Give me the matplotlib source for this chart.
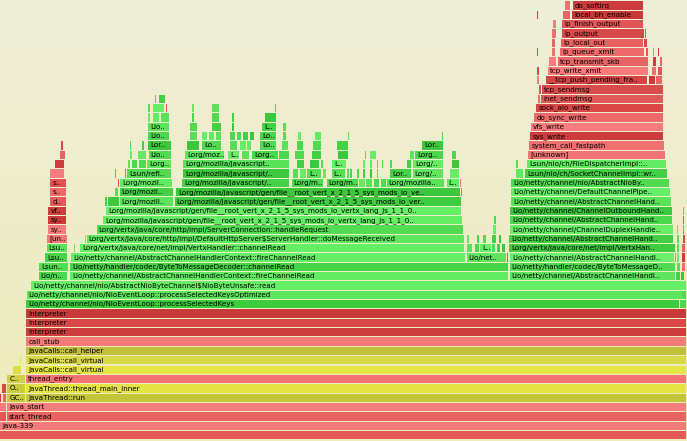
import matplotlib.pyplot as plt
from matplotlib.colors import LinearSegmentedColormap
import numpy as np

total_samples = 687

# labelled frames: (stack depth, first sample, samples, name shown)
base_frames = [
    (0, 0, 687, ''),
    (1, 0, 687, 'java-339'),
    (2, 6.5, 680.5, 'start_thread'),
    (3, 6.5, 680.5, 'java_start'),
    (4, 7, 18.5, 'GC..'),
    (4, 26, 661, 'JavaThread::run'),
    (5, 7, 18.5, 'O..'),
    (5, 26, 661, 'JavaThread::thread_main_inner'),
    (6, 7, 18.5, 'C..'),
    (6, 26, 661, 'thread_entry'),
    (7, 26, 661, 'JavaCalls::call_virtual'),
    (8, 26, 661, 'JavaCalls::call_virtual'),
    (9, 26, 661, 'JavaCalls::call_helper'),
    (10, 26, 661, 'call_stub'),
    (11, 26, 661, 'Interpreter'),
    (12, 26, 661, 'Interpreter'),
    (13, 26, 661, 'Interpreter'),
    (14, 26, 654, 'Lio/netty/channel/nio/NioEventLoop::processSelectedKeys'),
    (15, 26.5, 660, 'Lio/netty/channel/nio/NioEventLoop::processSelectedKeysOptimized'),
    (16, 31, 655.5, 'Lio/netty/channel/nio/AbstractNioByteChannel$NioByteUnsafe::read'),
]

native_frames = [
    (17, 38.5, 29.5, 'Lio/n..'),
    (18, 39.3, 29, 'Lsun..'),
    (19, 45, 23, 'Lsu..'),
    (20, 46.5, 21.5, 'Lsu..'),
    (21, 46.7, 21.3, '[un..'),
    (22, 48.3, 18.5, 'sy..'),
    (23, 48.3, 18.5, 'sy..'),
    (24, 48.3, 18.5, 'vf..'),
    (25, 50, 17, 'd..'),
    (26, 50, 17, 's..'),
    (27, 50, 17, 's..'),
]

http_frames = [
    (17, 70, 439, 'Lio/netty/channel/AbstractChannelHandlerContext::fireChannelRead'),
    (18, 70, 439, 'Lio/netty/handler/codec/ByteToMessageDecoder::channelRead'),
    (19, 71, 395, 'Lio/netty/channel/AbstractChannelHandlerContext::fireChannelRead'),
    (19, 466.5, 40, 'Lio/net..'),
    (20, 80, 385, 'Lorg/vertx/java/core/net/impl/VertxHandler::channelRead'),
    (21, 86.5, 378.5, 'Lorg/vertx/java/core/http/impl/DefaultHttpServer$ServerHandler::doMessageReceived'),
    (22, 96.5, 367, 'Lorg/vertx/java/core/http/impl/ServerConnection::handleRequest'),
    (23, 103, 360, 'Lorg/mozilla/javascript/gen/file__root_vert_x_2_1_5_sys_mods_io_vertx_lang_js_1_1_0..'),
    (24, 106, 356, 'Lorg/mozilla/javascript/gen/file__root_vert_x_2_1_5_sys_mods_io_vertx_lang_js_1_1_0..'),
    (25, 119.5, 54, 'Lorg/mozill..'),
    (25, 174.5, 287, 'Lorg/mozilla/javascript/gen/file__root_vert_x_2_1_5_sys_mods_io_ver..'),
    (26, 119.5, 54.5, 'Lorg/mozil..'),
    (26, 176, 285, 'Lorg/mozilla/javascript/gen/file__root_vert_x_2_1_5_sys_mods_io_ve..'),
]

script_frames = [
    (27, 120, 53, 'Lorg/mozil..'),
    (27, 182, 107.5, 'Lorg/mozilla/javascript/..'),
    (27, 291.5, 32, 'Lorg/m..'),
    (27, 326.5, 32, 'Lorg/m..'),
    (27, 386.5, 58.5, 'Lorg/mozilla..'),
    (27, 446.5, 13.5, 'L..'),
    (28, 127, 45, 'Lsun/refl..'),
    (28, 182.7, 107, 'Lorg/mozilla/javascript/..'),
    (28, 307, 15, 'L..'),
    (28, 331.5, 14, 'L..'),
    (28, 390, 21.5, 'Lor..'),
    (28, 412.5, 31, 'Lorg/..'),
    (29, 146.7, 25, 'Lorg..'),
    (29, 183.3, 106.5, 'Lorg/mozilla/javascript..'),
    (29, 331.7, 15, 'L..'),
    (29, 413, 30.3, 'Lorg/..'),
    (30, 148.5, 23, 'Lio..'),
    (30, 185, 40, 'Lorg/moz..'),
    (30, 228, 12, 'L..'),
    (30, 251.7, 26.5, 'Lorg..'),
    (30, 415, 28.3, 'Lorg..'),
    (31, 148, 23.5, 'Lor..'),
    (31, 201.7, 20, 'Lo..'),
    (31, 260, 16.7, 'Lo..'),
    (31, 421.7, 21.6, 'Lor..'),
    (32, 148.3, 21.7, 'Lio..'),
    (32, 260, 16.7, 'Lo..'),
    (33, 148.3, 21.7, 'Lio..'),
    (33, 261.7, 15, 'L..'),
]

write_frames = [
    (17, 509.5, 166, 'Lio/netty/channel/AbstractChannelHandl..'),
    (18, 509.5, 166.5, 'Lio/netty/handler/codec/ByteToMessageD..'),
    (19, 510, 165, 'Lio/netty/channel/AbstractChannelHandl..'),
    (20, 480, 11.7, 'L..'),
    (20, 509.3, 166, 'Lorg/vertx/java/core/net/impl/VertxHan..'),
    (21, 509, 165, 'Lio/netty/channel/AbstractChannelHand..'),
    (22, 510, 163.3, 'Lio/netty/channel/ChannelDuplexHandle..'),
    (23, 510, 163, 'Lio/netty/channel/AbstractChannelHand..'),
    (24, 510, 162.7, 'Lio/netty/channel/ChannelOutboundHand..'),
    (25, 510.7, 161, 'Lio/netty/channel/AbstractChannelHand..'),
    (26, 510.7, 160, 'Lio/netty/channel/DefaultChannelPipe..'),
    (27, 511, 159, 'Lio/netty/channel/nio/AbstractNioBy..'),
    (28, 525, 142.7, 'Lsun/nio/ch/SocketChannelImpl::wr..'),
    (29, 526.7, 140, 'Lsun/nio/ch/FileDispatcherImpl::..'),
]

kernel_frames = [
    (30, 528.3, 137.7, '[unknown]'),
    (31, 529.3, 135, 'system_call_fastpath'),
    (32, 530, 134, 'sys_write'),
    (33, 530.7, 133.3, 'vfs_write'),
    (34, 534, 130, 'do_sync_write'),
    (35, 536, 128, 'sock_aio_write'),
    (36, 540.7, 123.3, 'inet_sendmsg'),
    (37, 541.7, 122.3, 'tcp_sendmsg'),
    (38, 546, 102, '__tcp_push_pending_fra..'),
    (39, 547.7, 101.3, 'tcp_write_xmit'),
    (40, 558, 91, 'tcp_transmit_skb'),
    (41, 560, 85, 'ip_queue_xmit'),
    (42, 560.7, 83.3, 'ip_local_out'),
    (43, 561.7, 83.3, 'ip_output'),
    (44, 561.7, 81.6, 'ip_finish_output'),
    (45, 571.7, 71.6, 'local_bh_enable'),
    (46, 572.7, 70.6, 'do_softirq'),
]

# frames too narrow for a name: (stack depth, first sample, samples)
green_slivers = [
    (4, 1.8, 1.2), (14, 680, 6.5), (15, 682, 4.5),
    (17, 676, 4.5), (17, 680.5, 4), (18, 676.5, 4.5), (19, 677, 3),
    (20, 74, 1.2), (20, 466.7, 6.3), (20, 475, 5), (20, 491.7, 4.3),
    (20, 496.5, 4.5), (20, 501.5, 4.5), (20, 676.7, 3.3),
    (21, 85, 1.2), (21, 466.7, 3.3), (21, 473.5, 1.5), (21, 476.7, 3.3),
    (21, 483, 3.7), (21, 491.7, 5), (21, 499, 2.7), (21, 677, 2.5),
    (22, 493, 3.7), (22, 676.7, 2.3), (23, 97.5, 1.5), (23, 494, 2.7),
    (24, 96.5, 1.2), (25, 105, 2.5), (25, 108.3, 11), (26, 115, 4),
    (27, 114.5, 1.2), (27, 358.5, 7), (27, 366, 7), (27, 373.5, 6.5), (27, 380.5, 6),
    (28, 115, 1.5), (28, 125, 2), (28, 293, 6), (28, 299.5, 7), (28, 323, 4),
    (28, 346.5, 3), (28, 350, 3), (28, 356.5, 3), (28, 363, 3), (28, 370, 3),
    (28, 376.5, 2), (28, 450, 10), (28, 516, 8),
    (29, 128, 3), (29, 132, 6), (29, 138.5, 8), (29, 296.7, 8), (29, 310, 10),
    (29, 320.5, 3), (29, 363, 3), (29, 370, 3), (29, 376.5, 2), (29, 381.5, 2),
    (29, 390, 3), (29, 406.7, 5), (29, 451.7, 8), (29, 516, 2.7),
    (30, 130, 3), (30, 138, 8.5), (30, 241.7, 8.3), (30, 278.5, 11.5), (30, 295, 10),
    (30, 311.7, 10), (30, 338, 10.3), (30, 365, 1.7), (30, 370, 6.7), (30, 381.7, 1.3),
    (30, 410, 5), (30, 451.7, 5),
    (31, 130, 1.7), (31, 141.7, 3.3), (31, 186.7, 13.3), (31, 230, 8), (31, 240, 6.7),
    (31, 247, 4.7), (31, 281.7, 6.6), (31, 296.7, 6.6), (31, 313.3, 8.4), (31, 336.7, 11.6),
    (32, 141.7, 1.3), (32, 190, 8), (32, 201.7, 6.3), (32, 208.5, 6.5), (32, 215.5, 6.2),
    (32, 230, 6), (32, 236.7, 5), (32, 243, 6), (32, 249.5, 5.5), (32, 283.3, 3.4),
    (32, 298, 3.7), (32, 315, 6.7), (32, 348, 2), (32, 441.7, 1.6),
    (33, 190, 8), (33, 211.7, 10), (33, 231.7, 3.3), (33, 283.3, 3.4),
    (34, 148, 3), (34, 153, 7), (34, 160.5, 9.5), (34, 191.7, 3.3), (34, 211.7, 8.3),
    (34, 231.7, 3.3), (34, 265, 11.7),
    (35, 148, 2.5), (35, 153, 12), (35, 191.7, 3.3), (35, 211.7, 8.3), (35, 275, 1.7),
    (36, 155, 2), (36, 159, 7), (37, 162, 1),
]

red_slivers = [
    (2, 0, 6.5), (3, 0, 6.5), (4, 0, 1.8), (4, 3.2, 3.2), (5, 1.8, 4.5),
    (18, 682, 4), (19, 507.3, 1.4), (19, 675.2, 1.5), (19, 682, 4), (20, 682, 4),
    (21, 682.5, 3), (22, 682.5, 2.5), (23, 683, 2), (24, 683, 2), (25, 683.5, 1.5),
    (26, 461.3, 1.2), (27, 118.2, 1.2), (27, 460.3, 1.2), (35, 166.3, 0.8),
    (28, 50, 15), (29, 55, 10), (30, 60, 6), (31, 60.7, 2.6),
    (36, 538, 2.7), (37, 539.3, 2.3), (38, 537, 3), (38, 649, 6.5), (38, 656, 6.7),
    (39, 537, 3), (39, 651.7, 5), (39, 657.7, 5), (40, 549, 8), (40, 653, 4),
    (40, 660, 2.7), (41, 537, 2), (41, 551.7, 4.3), (41, 645.7, 2.6), (41, 652.7, 1.6),
    (41, 658, 2), (42, 551.7, 4.3), (42, 644, 4), (43, 551.7, 5), (43, 645, 1.5),
    (44, 553, 3.7), (45, 537, 2), (45, 563, 7.7), (46, 537.5, 1.5), (46, 565, 5.7),
]

yellow_slivers = [(7, 12.7, 9.3), (8, 20, 1.5), (9, 6.8, 0.9)]

# colours of the named frames, keyed by (depth, name)
frame_colors = {
    (0, ''): '#e35858', (1, 'java-339'): '#f37a7a', (2, 'start_thread'): '#e86262',
    (3, 'java_start'): '#f47c7c', (4, 'GC..'): '#c8c83c', (4, 'JavaThread::run'): '#c5c53a',
    (5, 'O..'): '#cbcb40', (5, 'JavaThread::thread_main_inner'): '#e3e344',
    (6, 'C..'): '#d0d046', (6, 'thread_entry'): '#f27474',
    (7, 'JavaCalls::call_virtual'): '#e5e546', (8, 'JavaCalls::call_virtual'): '#d9d948',
    (9, 'JavaCalls::call_helper'): '#c0c03a', (10, 'call_stub'): '#f47a7a',
    (11, 'Interpreter'): '#cd3d3d', (12, 'Interpreter'): '#d84848', (13, 'Interpreter'): '#c93a3a',
    (14, 'Lio/netty/channel/nio/NioEventLoop::processSelectedKeys'): '#3ccc3c',
    (15, 'Lio/netty/channel/nio/NioEventLoop::processSelectedKeysOptimized'): '#5ce65c',
    (16, 'Lio/netty/channel/nio/AbstractNioByteChannel$NioByteUnsafe::read'): '#66ef66',
    (17, 'Lio/n..'): '#4cd84c', (18, 'Lsun..'): '#52de52', (19, 'Lsu..'): '#48d448',
    (20, 'Lsu..'): '#5ae25a', (21, '[un..'): '#f27676', (22, 'sy..'): '#f57c7c',
    (23, 'sy..'): '#cc3a3a', (24, 'vf..'): '#cd3e3e', (25, 'd..'): '#e25a5a',
    (26, 's..'): '#ee6a6a', (27, 's..'): '#e05252',
    (17, 'Lio/netty/channel/AbstractChannelHandlerContext::fireChannelRead'): '#62ec62',
    (18, 'Lio/netty/handler/codec/ByteToMessageDecoder::channelRead'): '#46d446',
    (19, 'Lio/netty/channel/AbstractChannelHandlerContext::fireChannelRead'): '#66ee66',
    (19, 'Lio/net..'): '#5ee45e',
    (20, 'Lorg/vertx/java/core/net/impl/VertxHandler::channelRead'): '#64ee64',
    (21, 'Lorg/vertx/java/core/http/impl/DefaultHttpServer$ServerHandler::doMessageReceived'): '#5ee85e',
    (22, 'Lorg/vertx/java/core/http/impl/ServerConnection::handleRequest'): '#52dc52',
    (23, 'Lorg/mozilla/javascript/gen/file__root_vert_x_2_1_5_sys_mods_io_vertx_lang_js_1_1_0..'): '#64ec64',
    (24, 'Lorg/mozilla/javascript/gen/file__root_vert_x_2_1_5_sys_mods_io_vertx_lang_js_1_1_0..'): '#66ee66',
    (25, 'Lorg/mozill..'): '#5ce45c',
    (25, 'Lorg/mozilla/javascript/gen/file__root_vert_x_2_1_5_sys_mods_io_ver..'): '#40cc40',
    (26, 'Lorg/mozil..'): '#44d044',
    (26, 'Lorg/mozilla/javascript/gen/file__root_vert_x_2_1_5_sys_mods_io_ve..'): '#3cc83c',
    (27, 'Lorg/mozil..'): '#62ea62', (27, 'Lorg/mozilla/javascript/..'): '#46d246',
    (27, 'Lorg/m..'): '#50d850', (27, 'Lorg/mozilla..'): '#5ae25a', (27, 'L..'): '#62ea62',
    (28, 'Lsun/refl..'): '#52da52', (28, 'Lorg/mozilla/javascript/..'): '#3ec83e',
    (28, 'L..'): '#56de56', (28, 'Lor..'): '#46d046', (28, 'Lorg/..'): '#5ee65e',
    (29, 'Lorg..'): '#5ee85e', (29, 'Lorg/mozilla/javascript..'): '#5ae25a',
    (29, 'L..'): '#66ee66', (29, 'Lorg/..'): '#64ec64',
    (30, 'Lio..'): '#50da50', (30, 'Lorg/moz..'): '#5ee65e', (30, 'L..'): '#66ee66',
    (30, 'Lorg..'): '#4cd64c', (31, 'Lor..'): '#3cc83c', (31, 'Lo..'): '#50d850',
    (32, 'Lio..'): '#4cd84c', (32, 'Lo..'): '#4ad44a', (33, 'Lio..'): '#5ae25a',
    (33, 'L..'): '#44d044',
    (17, 'Lio/netty/channel/AbstractChannelHandl..'): '#5ee45e',
    (18, 'Lio/netty/handler/codec/ByteToMessageD..'): '#50da50',
    (19, 'Lio/netty/channel/AbstractChannelHandl..'): '#6af06a',
    (20, 'L..'): '#66ee66',
    (20, 'Lorg/vertx/java/core/net/impl/VertxHan..'): '#3fcc3f',
    (21, 'Lio/netty/channel/AbstractChannelHand..'): '#44d044',
    (22, 'Lio/netty/channel/ChannelDuplexHandle..'): '#66ee66',
    (23, 'Lio/netty/channel/AbstractChannelHand..'): '#4cd84c',
    (24, 'Lio/netty/channel/ChannelOutboundHand..'): '#3cc83c',
    (25, 'Lio/netty/channel/AbstractChannelHand..'): '#5ae25a',
    (26, 'Lio/netty/channel/DefaultChannelPipe..'): '#66ee66',
    (27, 'Lio/netty/channel/nio/AbstractNioBy..'): '#50da50',
    (28, 'Lsun/nio/ch/SocketChannelImpl::wr..'): '#44d044',
    (29, 'Lsun/nio/ch/FileDispatcherImpl::..'): '#62ec62',
    (30, '[unknown]'): '#f07474', (31, 'system_call_fastpath'): '#f07070',
    (32, 'sys_write'): '#cc3c3c', (33, 'vfs_write'): '#f87c7c',
    (34, 'do_sync_write'): '#ee6a6a', (35, 'sock_aio_write'): '#d84646',
    (36, 'inet_sendmsg'): '#e05858', (37, 'tcp_sendmsg'): '#d84c4c',
    (38, '__tcp_push_pending_fra..'): '#d44444', (39, 'tcp_write_xmit'): '#f87a7a',
    (40, 'tcp_transmit_skb'): '#e86464', (41, 'ip_queue_xmit'): '#ee6a6a',
    (42, 'ip_local_out'): '#e86060', (43, 'ip_output'): '#d84848',
    (44, 'ip_finish_output'): '#e05555', (45, 'local_bh_enable'): '#cc3838',
    (46, 'do_softirq'): '#cc3c3c',
}
green_shades = ['#5ae25a', '#44d044', '#66ee66', '#4cd84c', '#3cc83c', '#62ea62', '#50da50', '#56de56']
red_shades = ['#e05555', '#f07070', '#d84848', '#e86464', '#cc3c3c', '#f47c7c']
yellow_shades = ['#dede4a', '#e6e64a', '#e0e070']

row_h = 0.89
fig = plt.figure(figsize=(6.87, 4.41), dpi=100)
ax = fig.add_axes([0, 0, 1, 1])
ylo, yhi = -0.19, 47.02
ax.set_xlim(0, total_samples)
ax.set_ylim(ylo, yhi)
ax.axis('off')

bg = LinearSegmentedColormap.from_list('bg', ['#eeecba', '#efeed8'])
ax.imshow(np.linspace(0, 1, 256).reshape(-1, 1), cmap=bg, origin='lower', aspect='auto',
          extent=[0, total_samples, ylo, yhi], zorder=0)


def draw(frames, colors):
    d = np.array([f[0] for f in frames], dtype=float)
    s = np.array([f[1] for f in frames], dtype=float)
    w = np.array([f[2] for f in frames], dtype=float)
    ax.barh(d + row_h / 2, np.maximum(w - 0.6, 0.4), left=s, height=row_h,
            color=colors, linewidth=0, zorder=2)


for group in [base_frames, native_frames, http_frames, script_frames, write_frames, kernel_frames]:
    draw(group, [frame_colors.get((f[0], f[3]), '#5ae25a') for f in group])
    for d, s, w, name in group:
        if name:
            ax.text(s + 2.2, d + row_h / 2, name, fontsize=5.1, color='black',
                    va='center', ha='left', zorder=3)

draw(green_slivers, [green_shades[(i * 3) % len(green_shades)] for i in range(len(green_slivers))])
draw(red_slivers, [red_shades[(i * 5) % len(red_shades)] for i in range(len(red_slivers))])
draw(yellow_slivers, yellow_shades)

fig.savefig('out.png', dpi=100)
